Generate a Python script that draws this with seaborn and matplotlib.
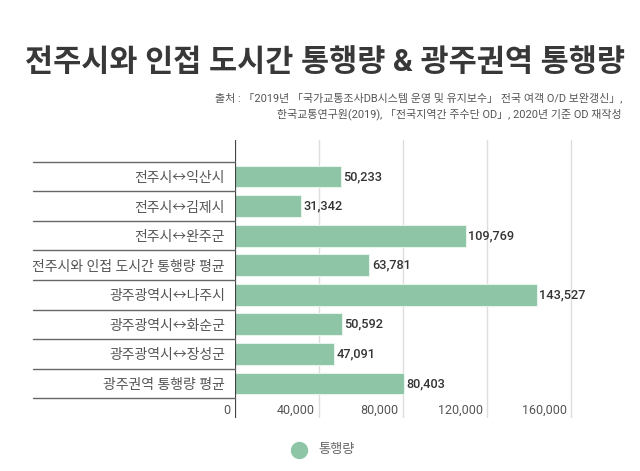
import matplotlib
matplotlib.use("Agg")
import matplotlib.pyplot as plt
import matplotlib.transforms as mtransforms
from matplotlib.lines import Line2D
import seaborn as sns
import pandas as pd

categories = ["전주시↔익산시", "전주시↔김제시", "전주시↔완주군", "전주시와 인접 도시간 통행량 평균",
              "광주광역시↔나주시", "광주광역시↔화순군", "광주광역시↔장성군", "광주권역 통행량 평균"]
values = [50233, 31342, 109769, 63781, 143527, 50592, 47091, 80403]
xticks = [0, 40000, 80000, 120000, 160000]
xtick_labels = ["0", "40,000", "80,000", "120,000", "160,000"]
series_name = "통행량"
title = "전주시와 인접 도시간 통행량 & 광주권역 통행량"
source_lines = ["출처 : 「2019년 「국가교통조사DB시스템 운영 및 유지보수」 전국 여객 O/D 보완갱신」,",
                "한국교통연구원(2019), 「전국지역간 주수단 OD」, 2020년 기준 OD 재작성"]

sns.set_theme(style="white")
FAM = ["Roboto", "Noto Sans CJK KR", "DejaVu Sans"]
plt.rcParams["font.family"] = FAM

W, H = 640, 471
fig = plt.figure(figsize=(W / 100, H / 100), dpi=100)

def fx(px):
    return px / W

def fy(py):
    return 1 - py / H

ax_left, ax_right, ax_top, ax_bot = 235.3, 602.8, 140, 418
ax = fig.add_axes([fx(ax_left), fy(ax_bot), fx(ax_right - ax_left), (ax_bot - ax_top) / H])

df = pd.DataFrame({"category": categories, "value": values})
bar_color = "#8dc5a6"
sns.barplot(data=df, y="category", x="value", orient="h", color=bar_color, width=0.74,
            edgecolor="#e8f3ec", linewidth=0.8, ax=ax, saturation=1)

ax.set_xlim(0, 175000)
ax.set_ylim(8.166, -1.234)
ax.set_xlabel("")
ax.set_ylabel("")
for s in ax.spines.values():
    s.set_visible(False)

# gridlines
for t in xticks[1:]:
    ax.axvline(t, color="#dedede", lw=1.0, zorder=0)
ax.axvline(0, color="#444444", lw=1.6, zorder=5)

# x tick labels as text
ax.set_xticks([])
for t, lab in zip(xticks, xtick_labels):
    ax.text(t - 2200, 7.92, lab, ha="right", va="center", fontsize=9, color="#555555", family=FAM)

# y tick labels
ax.set_yticks(range(len(categories)))
ax.set_yticklabels(categories, fontsize=10, color="#555555", family=FAM)
ax.tick_params(axis="y", length=0, pad=7.5)

# separator lines
trans = mtransforms.blended_transform_factory(fig.transFigure, ax.transData)
for i in range(len(categories) + 1):
    y = -0.5 + i
    ln = Line2D([fx(33), fx(ax_left)], [y, y], transform=trans, color="#666666", lw=1.0, clip_on=False)
    fig.add_artist(ln)

# value labels
for i, v in enumerate(values):
    ax.text(v + 1200, i, f"{v:,}", ha="left", va="center", fontsize=9.2, color="#333333",
            fontweight="medium", family=FAM)

# title & source
fig.text(fx(325), fy(62), title, ha="center", va="center", fontsize=22, fontweight="bold",
         color="#383838", family=FAM)
fig.text(fx(622), fy(98), source_lines[0], ha="right", va="center", fontsize=7.9, color="#555555", family=FAM)
fig.text(fx(622), fy(114), source_lines[1], ha="right", va="center", fontsize=7.9, color="#555555", family=FAM)

# legend
fig.add_artist(Line2D([fx(299.3)], [fy(450)], marker="o", markersize=11.5, color=bar_color,
                      linestyle="none", transform=fig.transFigure))
fig.text(fx(318), fy(450), series_name, ha="left", va="center", fontsize=9.5, color="#666666", family=FAM)

fig.savefig("out.png", dpi=100, facecolor="white")
